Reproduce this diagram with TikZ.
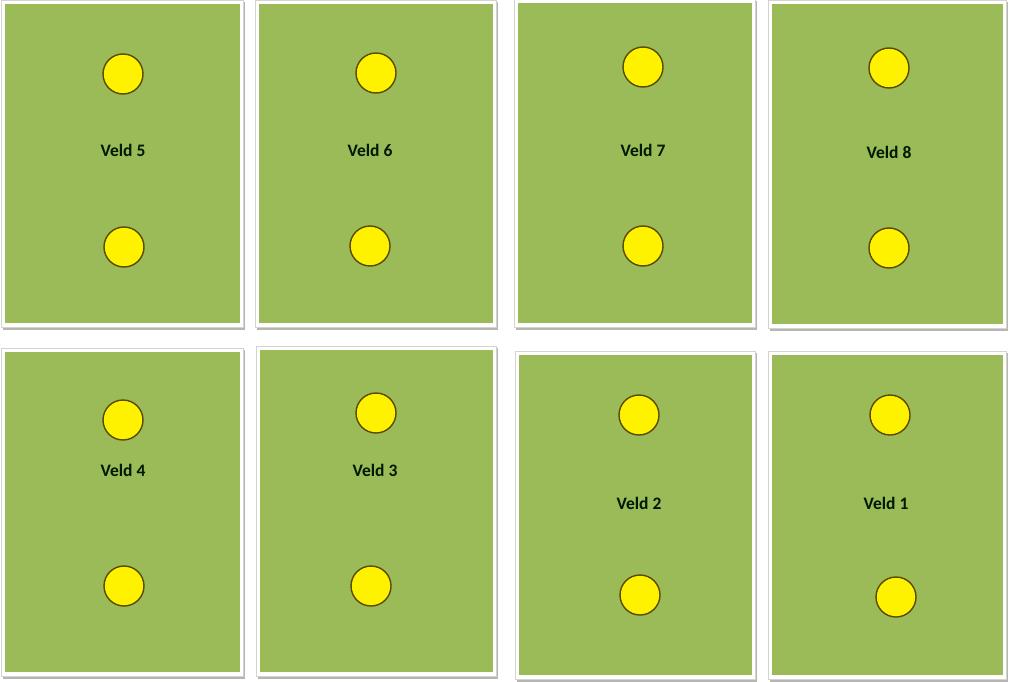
\documentclass[tikz,border=0pt]{standalone}
\usepackage{fontspec}
\setmainfont{Carlito}
\definecolor{fieldgreen}{HTML}{9BBB59}
\definecolor{ballline}{HTML}{5A4A00}
\definecolor{framegray}{HTML}{D2D5CD}
\definecolor{shadowgray}{HTML}{B4B7B0}
\tikzset{
  field/.style={fill=fieldgreen, draw=none, inner sep=0pt},
  ball/.style={circle, fill=yellow, draw=ballline, line width=1.4pt, minimum size=40pt, inner sep=0pt},
  fieldlabel/.style={font=\bfseries\fontsize{17.5}{20}\selectfont, text=black!90!green, inner sep=0pt},
}
\begin{document}
\begin{tikzpicture}[x=1pt,y=-1pt]
\useasboundingbox[fill=white] (0,0) rectangle (1009,682);
\foreach \n/\xa/\ya/\xb/\yb/\ax/\ay/\bx/\by/\lx/\ly in {
 5/5/4/240/323/123/74/124/247/123/150,
 6/259/4/493/323/376/73/370/246/370/150,
 7/518/3/752/323/643/67/643/246/643/150,
 8/772/4/1003/324/889/68/889/248/889/152,
 4/5/352/240/672/123/420/124/586/123/470,
 3/260/350/493/672/376/413/371/586/375/470,
 2/519/355/752/675/639/415/640/595/639/503,
 1/772/355/1003/675/890/415/896/597/886/503}
{
  % frame and shadow
  \fill[shadowgray] (\xa-2,\ya-2) rectangle (\xb+5,\yb+7);
  \fill[white, draw=framegray, line width=0.8pt] (\xa-4,\ya-4) rectangle (\xb+3,\yb+4);
  \node[field, minimum width={\xb-\xa}, minimum height={\yb-\ya}, anchor=north west] (panel\n) at (\xa,\ya) {};
  \node[ball] (top\n) at (\ax,\ay) {};
  \node[ball] (bot\n) at (\bx,\by) {};
  \node[fieldlabel] (lab\n) at (\lx,\ly) {Veld \n};
}
\end{tikzpicture}
\end{document}
